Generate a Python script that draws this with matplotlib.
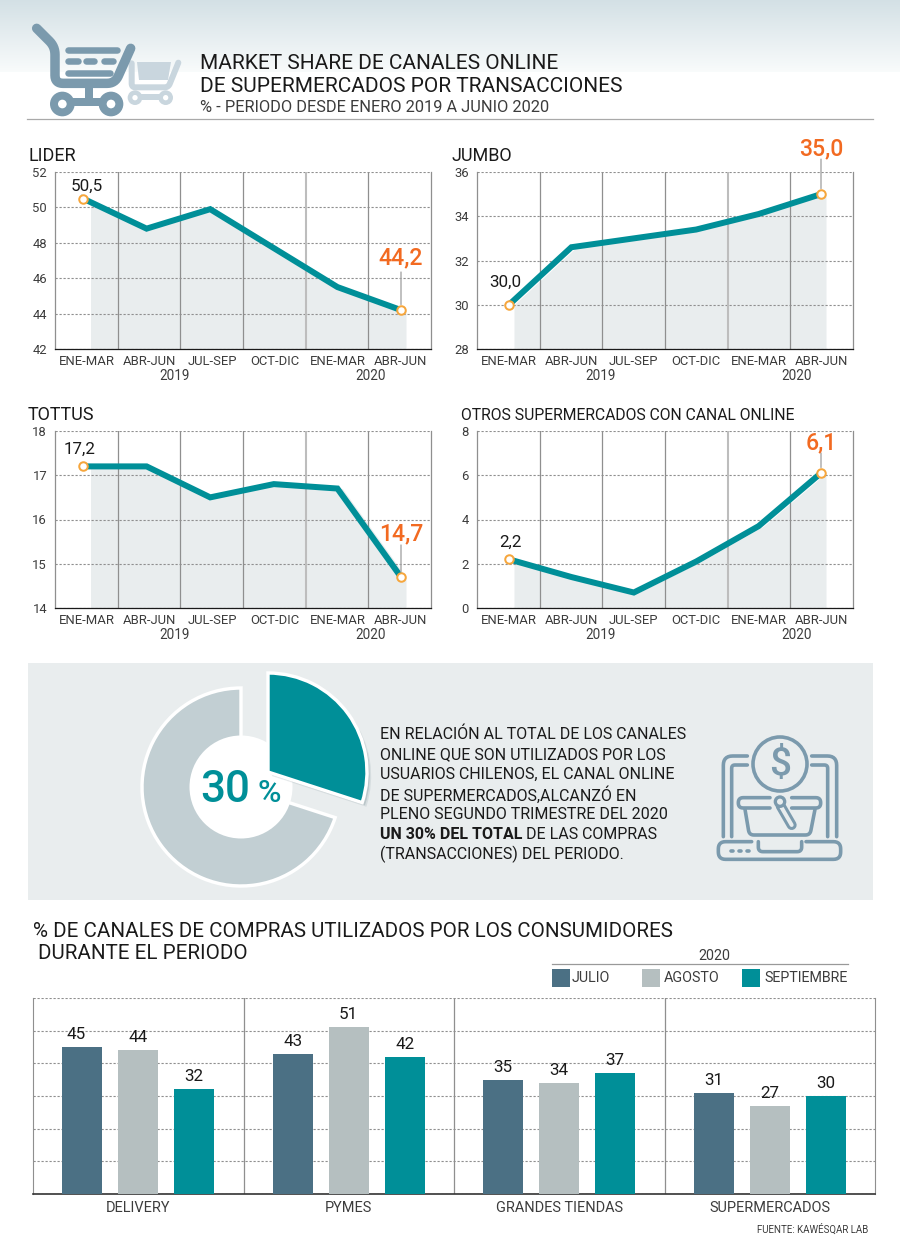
#!/usr/bin/env python3
"""Market share of online supermarket channels: infographic with four line
panels, a donut callout and a grouped bar chart. Layout numbers are reference pixels."""
import matplotlib
matplotlib.use("Agg")
import matplotlib.pyplot as plt
import matplotlib.patheffects as pe
import numpy as np
from matplotlib.patches import Circle, Polygon, Rectangle

W, H = 900, 1259

PERIODS = ["ENE-MAR", "ABR-JUN", "JUL-SEP", "OCT-DIC", "ENE-MAR", "ABR-JUN"]
LIDER = [50.5, 48.8, 49.9, 47.7, 45.5, 44.2]
JUMBO = [30.0, 32.6, 33.0, 33.4, 34.1, 35.0]
TOTTUS = [17.2, 17.2, 16.5, 16.8, 16.7, 14.7]
OTROS = [2.2, 1.4, 0.7, 2.1, 3.7, 6.1]
LIDER_TICKS = [42, 44, 46, 48, 50, 52]
JUMBO_TICKS = [28, 30, 32, 34, 36]
TOTTUS_TICKS = [14, 15, 16, 17, 18]
OTROS_TICKS = [0, 2, 4, 6, 8]

SHARE = [30, 70]

CHANNELS = ["DELIVERY", "PYMES", "GRANDES TIENDAS", "SUPERMERCADOS"]
JULIO = [45, 43, 35, 31]
AGOSTO = [44, 51, 34, 27]
SEPTIEMBRE = [32, 42, 37, 30]

INK, MUTED, GRID = "#1a1a1a", "#3c3c3c", "#8f8f8f"
TEAL, SLATE, SILVER = "#008f98", "#4b7084", "#b5bfc0"
ORANGE, RING = "#f26a21", "#f6a63c"
AREA, PANEL, DONUT = "#e9edee", "#e9edee", "#c2cfd3"
ICON, ICON_PALE = "#7b9aad", "#c9d6de"

plt.rcParams["font.family"] = ["Roboto", "DejaVu Sans"]

fig = plt.figure(figsize=(W / 100, H / 100), dpi=100, facecolor="white")


def px_axes(x0, y0, x1, y1, **kw):
    return fig.add_axes([x0 / W, 1 - y1 / H, (x1 - x0) / W, (y1 - y0) / H], **kw)


def fpx(px):
    # pixels to points at dpi 100
    return px * 0.72


def offset(dx, dy):
    # dy in pixels, positive = up
    return (fpx(dx), fpx(dy))


ov = px_axes(0, 0, W, H, zorder=0)
ov.set_xlim(0, W)
ov.set_ylim(H, 0)
ov.axis("off")

# ---- header ---------------------------------------------------------------
ramp = np.linspace(0, 1, 72)[:, None]
top_c, low_c = np.array([0.83, 0.88, 0.90]), np.array([0.975, 0.985, 0.985])
ov.imshow((top_c + (low_c - top_c) * ramp[..., None]).reshape(72, 1, 3),
          extent=(0, W, 72, 0), aspect="auto", zorder=0)
ov.set_xlim(0, W)
ov.set_ylim(H, 0)


def round_corners(xs, ys, r):
    # polyline with each inner vertex replaced by a small quadratic arc
    pts = np.column_stack([xs, ys]).astype(float)
    out = [pts[0]]
    for a, b, c in zip(pts[:-2], pts[1:-1], pts[2:]):
        ra = min(r, np.linalg.norm(a - b) / 2)
        rc = min(r, np.linalg.norm(c - b) / 2)
        p = b + (a - b) / np.linalg.norm(a - b) * ra
        q = b + (c - b) / np.linalg.norm(c - b) * rc
        for t in np.linspace(0, 1, 8):
            out.append((1 - t) ** 2 * p + 2 * t * (1 - t) * b + t ** 2 * q)
    out.append(pts[-1])
    return np.array(out)


def stroke(xs, ys, color=ICON, lw=8, zorder=2, ox=0, oy=0, r=0):
    # coordinates are on the 3x zoom grid of the icon
    line = round_corners(xs, ys, r)
    ov.plot(ox + line[:, 0] / 3, oy + line[:, 1] / 3, color=color, lw=fpx(lw),
            solid_capstyle="round", solid_joinstyle="round", zorder=zorder)


def disc(cx, cy, r, color, zorder=2, ox=0, oy=0):
    ov.add_patch(Circle((ox + cx / 3, oy + cy / 3), r / 3, fc=color, ec="none", zorder=zorder))


# small pale cart, behind the large one
ov.add_patch(Polygon([(137, 62), (171, 62), (168, 80), (139, 80)], fc=ICON_PALE, ec="none", zorder=1))
stroke([395, 395, 505, 535], [190, 262, 262, 188], ICON_PALE, 6, 1, r=12)
stroke([405, 497], [290, 290], ICON_PALE, 6, 1)
for cx in (405, 497):
    disc(cx, 293, 22, ICON_PALE, 1)
    disc(cx, 293, 8, "white", 1)
# large cart
stroke([110, 165, 165, 345, 392], [85, 140, 250, 250, 145], lw=9.5, r=24)
stroke([205, 350], [150, 150], lw=6.5)
for a, b in ((205, 235), (258, 282), (312, 340)):
    stroke([a, b], [184, 184], lw=6.5)
stroke([205, 330], [218, 218], lw=6.5)
stroke([268, 268], [255, 305], lw=8)
stroke([190, 330], [306, 306], lw=8)
for cx in (187, 333):
    disc(cx, 312, 37, ICON)
    disc(cx, 312, 13, "white")

ov.text(200, 63, "MARKET SHARE DE CANALES ONLINE", fontsize=15, color=INK, va="center")
ov.text(200, 86, "DE SUPERMERCADOS POR TRANSACCIONES", fontsize=15, color=INK, va="center")
ov.text(200, 107, "% - PERIODO DESDE ENERO 2019 A JUNIO 2020", fontsize=11.8, color=MUTED, va="center")
ov.plot([27, 873], [118.5, 118.5], color="#a9a9a9", lw=0.9)


# ---- line panels ----------------------------------------------------------
def line_panel(box, first_last, label_span, area_start, title, title_x, title_px, values, yticks,
               first_off, last_off, stem, year_x):
    x0, y0, x1, y1 = box
    first, last = first_last
    ax = px_axes(x0, y0, x1, y1, zorder=1)
    ax.patch.set_alpha(0)
    x = np.arange(len(values))
    # the six period cells span the plot box, the points do not sit on cell centres
    unit = (last - first) / 5
    ax.set_xlim(-(first - x0) / unit, 5 + (x1 - last) / unit)
    ax.set_ylim(yticks[0], yticks[-1])
    edges = np.linspace(*ax.get_xlim(), len(values) + 1)

    # the shaded area is drawn about 5 px right of the line and starts late
    shift = 5 / unit
    area = ax.fill_between(x + shift, values, yticks[0], color=AREA, lw=0, zorder=1)
    area.set_clip_path(Rectangle(((area_start - first) / unit, yticks[0]), 6, yticks[-1] - yticks[0],
                                 transform=ax.transData))
    for v in yticks:
        ax.axhline(v, color=GRID, lw=0.8, ls=(0, (2, 1.6)), zorder=2)
    for i, e in enumerate(edges[1:-1]):
        # the divider between 2019 and 2020 is wider and paler
        if i == 3:
            ax.axvline(e, color="#bdbdbd", lw=1.5, zorder=2)
        else:
            ax.axvline(e, color=GRID, lw=0.9, zorder=2)
    ax.plot(x, values, color=TEAL, lw=fpx(6), solid_joinstyle="miter", zorder=3)
    ax.plot(x[[0, -1]], np.array(values)[[0, -1]], "o", ms=fpx(8.5), mfc="white", mec=RING,
            mew=fpx(2), zorder=4, clip_on=False)

    ax.annotate(f"{values[0]:.1f}".replace(".", ","), (x[0], values[0]), xytext=offset(*first_off),
                textcoords="offset points", ha="center", va="center", fontsize=fpx(17), color=INK, zorder=5)
    ax.annotate(f"{values[-1]:.1f}".replace(".", ","), (x[-1], values[-1]), xytext=offset(*last_off),
                textcoords="offset points", ha="center", va="center", fontsize=fpx(23), color=ORANGE,
                weight="medium", zorder=5, annotation_clip=False)
    ax.annotate("", (x[-1], values[-1]), xytext=offset(0, stem), textcoords="offset points",
                arrowprops=dict(arrowstyle="-", color="#a6a6a6", lw=1, shrinkA=0, shrinkB=4), zorder=3)

    ax.spines["top"].set_visible(False)
    for s in ("left", "right"):
        ax.spines[s].set_color(GRID)
        ax.spines[s].set_linewidth(0.9)
    ax.spines["bottom"].set_color(INK)
    ax.spines["bottom"].set_linewidth(0.9)
    ax.set_yticks(yticks)
    ax.set_xticks((np.linspace(*label_span, len(values)) - first) / unit)
    ax.set_xticklabels(PERIODS)
    ax.tick_params(length=0, labelsize=fpx(13), labelcolor=MUTED)
    ax.tick_params(axis="y", pad=fpx(8))
    ax.tick_params(axis="x", pad=fpx(6))
    ax.set_axisbelow(False)

    ov.text(title_x, y0 - 16, title, fontsize=fpx(title_px), color=INK, va="center")
    ov.text(year_x[0], y1 + 27, "2019", fontsize=fpx(13.5), color=MUTED, ha="center", va="center")
    ov.text(year_x[1], y1 + 27, "2020", fontsize=fpx(13.5), color=MUTED, ha="center", va="center")
    return ax


line_panel((55, 172, 431, 349), (83, 401), (87, 400), 91, "LIDER", 28, 18, LIDER, LIDER_TICKS,
           (4, 12), (0, 52), 38, (175, 371))
line_panel((477, 172, 853, 349), (509, 821), (509, 821), 513, "JUMBO", 452, 18, JUMBO, JUMBO_TICKS,
           (-4, 22), (0, 45), 35, (601, 797))
line_panel((55, 431, 431, 608), (83, 401), (87, 400), 91, "TOTTUS", 28, 18, TOTTUS, TOTTUS_TICKS,
           (-3, 17), (0, 43), 32, (175, 371))
line_panel((477, 431, 853, 608), (509, 821), (509, 821), 513, "OTROS SUPERMERCADOS CON CANAL ONLINE", 461, 15.7,
           OTROS, OTROS_TICKS, (1, 17), (0, 30), 20, (601, 797))

# ---- donut band -----------------------------------------------------------
ov.add_patch(Rectangle((28, 663), 845, 237, fc=PANEL, ec="none", zorder=1))

CX, CY, BOX = 241, 787, 130
dax = px_axes(CX - BOX, CY - BOX, CX + BOX, CY + BOX, zorder=2)
wedges, _ = dax.pie(SHARE, colors=[TEAL, DONUT], startangle=90, counterclock=False, radius=99,
                    wedgeprops=dict(width=99, edgecolor="white", linewidth=fpx(3.4)))
dax.set_xlim(-BOX, BOX)
dax.set_ylim(-BOX, BOX)
dax.add_patch(Circle((0, 0), 51.5, fc="white", ec="none", zorder=3))
teal = wedges[0]
teal.set_center((27, 15))
teal.set_zorder(4)
teal.set_path_effects([
    pe.SimplePatchShadow(offset=(3.0, -3.0), shadow_rgbFace="#4d6a75", alpha=0.12),
    pe.SimplePatchShadow(offset=(2.0, -2.0), shadow_rgbFace="#4d6a75", alpha=0.2),
    pe.Normal()])
dax.text(-15.5, -3, "30", fontsize=fpx(44), color=TEAL, weight="medium", ha="center", va="center", zorder=5)
dax.text(28.5, -6, "%", fontsize=fpx(32), color=TEAL, weight="medium", ha="center", va="center", zorder=5)

BODY = ["EN RELACIÓN AL TOTAL DE LOS CANALES", "ONLINE QUE SON UTILIZADOS POR LOS",
        "USUARIOS CHILENOS, EL CANAL ONLINE", "DE SUPERMERCADOS,ALCANZÓ EN",
        "PLENO SEGUNDO TRIMESTRE DEL 2020", None, "(TRANSACCIONES) DEL PERIODO."]
for i, line in enumerate(BODY):
    if line:
        ov.text(380, 734.5 + i * 20, line, fontsize=fpx(16), color=INK, va="center", zorder=2)
lead = ov.text(380, 834.5, "UN 30% DEL TOTAL", fontsize=fpx(16), color=INK, weight="bold", va="center", zorder=2)
ov.annotate(" DE LAS COMPRAS", xy=(1, 0.5), xycoords=lead, va="center", fontsize=fpx(16), color=INK, zorder=2)

# laptop / basket icon, traced on a 3x grid anchored at (690, 720)
ic = dict(lw=3.6, zorder=2, ox=690, oy=720)
stroke([172, 100, 100], [108, 108, 350], r=28, **ic)
stroke([172, 125, 125], [135, 135, 350], r=10, **ic)
stroke([365, 440, 440], [108, 108, 350], r=28, **ic)
stroke([365, 413, 413], [135, 135, 350], r=10, **ic)
ov.add_patch(Circle((780, 764), 27, fc="none", ec=ICON, lw=fpx(3.6), zorder=2))
ov.text(780, 764, "$", fontsize=fpx(39), color=ICON, ha="center", va="center", zorder=2, weight="medium")
stroke([240, 145, 145, 240], [233, 233, 264, 264], r=15, **ic)
stroke([305, 392, 392, 305], [233, 233, 264, 264], r=15, **ic)
stroke([165, 178, 360, 375], [268, 345, 345, 268], r=14, **ic)
stroke([185, 85, 85, 452, 452, 348], [365, 365, 418, 418, 365, 365], r=22, **ic)
stroke([205, 205, 335, 335], [365, 395, 395, 365], r=14, **ic)
for cx in (125, 150, 175):
    stroke([cx - 3, cx + 3], [392, 392], **ic)
stroke([272, 305], [258, 315], lw=10, zorder=2, ox=690, oy=720, color=ICON)
stroke([272, 305], [258, 315], lw=4, zorder=2, ox=690, oy=720, color=PANEL)
disc(270, 245, 19, ICON, oy=720, ox=690)
disc(270, 245, 9, PANEL, oy=720, ox=690)

# ---- grouped bars ---------------------------------------------------------
ov.text(33, 931, "% DE CANALES DE COMPRAS UTILIZADOS POR LOS CONSUMIDORES", fontsize=14.8, color=INK, va="center")
ov.text(38, 953, "DURANTE EL PERIODO", fontsize=14.8, color=INK, va="center")

bx = px_axes(33, 998, 875, 1194, zorder=1)
bx.patch.set_alpha(0)
pos = np.arange(len(CHANNELS)) + 0.5
STEP, BAR_W = 0.266, 0.188
for k, (vals, col) in enumerate(((JULIO, SLATE), (AGOSTO, SILVER), (SEPTIEMBRE, TEAL))):
    bars = bx.bar(pos + (k - 1) * STEP, vals, BAR_W, color=col, zorder=3)
    texts = bx.bar_label(bars, padding=fpx(5), fontsize=fpx(17), color=INK, zorder=4)
    if k == 0:
        texts[0].xyann = (fpx(-6), fpx(5))  # the "45" sits left of its bar in the original
bx.set_xlim(0, len(CHANNELS))
bx.set_ylim(0, 60)
bx.set_yticks(np.arange(0, 61, 10))
bx.set_yticklabels([])
bx.set_xticks(pos)
bx.set_xticklabels(CHANNELS)
bx.tick_params(length=0, labelsize=fpx(14.5), labelcolor=MUTED, pad=fpx(7))
bx.yaxis.grid(True, color=GRID, lw=0.8, ls=(0, (2, 1.6)), zorder=1)
for e in np.arange(1, len(CHANNELS)):
    bx.axvline(e, color=GRID, lw=0.9, zorder=2)
bx.set_axisbelow(True)
bx.spines["top"].set_visible(False)
for s in ("left", "right"):
    bx.spines[s].set_color(GRID)
bx.spines["bottom"].set_color("#333333")
bx.spines["bottom"].set_linewidth(1.2)

ov.text(714, 955.5, "2020", fontsize=fpx(14.2), color=MUTED, ha="center", va="center")
ov.plot([552, 848], [964, 964], color="#999999", lw=0.9)
for sx, tx, name, col in ((552, 572, "JULIO", SLATE), (642, 664, "AGOSTO", SILVER), (742, 764, "SEPTIEMBRE", TEAL)):
    ov.add_patch(Rectangle((sx, 969), 18, 18, fc=col, ec="none", zorder=2))
    ov.text(tx, 977.5, name, fontsize=fpx(14.2), color=MUTED, va="center")

ov.text(868, 1229, "FUENTE: KAWÉSQAR LAB", fontsize=fpx(9.8), color=MUTED, ha="right", va="center")

fig.savefig("out.png", dpi=100)
